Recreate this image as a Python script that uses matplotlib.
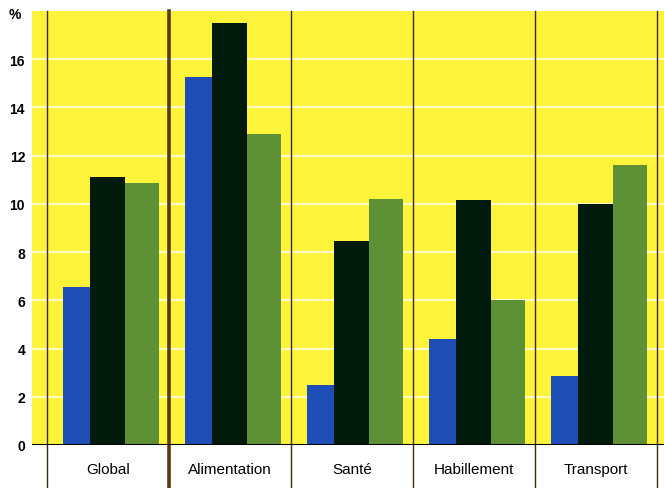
import matplotlib
matplotlib.use("Agg")
import numpy as np
import matplotlib.pyplot as plt

plt.rcParams['font.family'] = ['Liberation Sans', 'DejaVu Sans']

# ── Données (%) ───────────────────────────────────────────────
categories = ["Global", "Alimentation", "Santé", "Habillement", "Transport"]
serie_bleue = [6.55, 15.25, 2.5, 4.4, 2.85]
serie_noire = [11.1, 17.5, 8.45, 10.15, 10.0]
serie_verte = [10.85, 12.9, 10.2, 6.0, 11.6]
yticks = [0, 2, 4, 6, 8, 10, 12, 14, 16]

YELLOW = "#FDF33A"
BLUE = "#1F4DB6"
BLACK = "#021A0C"
GREEN = "#5E9036"

fig = plt.figure(figsize=(6.64, 4.89), dpi=100)
W, H = 664, 489
ax = fig.add_axes([32 / W, (H - 446) / H, (664 - 32) / W, (446 - 12) / H])
ax.set_facecolor(YELLOW)

x = np.arange(len(categories))
ax.bar(x + 0.13, serie_bleue, width=0.22, align="edge", color=BLUE, zorder=3)
ax.bar(x + 0.35, serie_noire, width=0.29, align="edge", color=BLACK, zorder=3)
ax.bar(x + 0.64, serie_verte, width=0.28, align="edge", color=GREEN, zorder=3)

# lignes horizontales claires
for yv in yticks[1:]:
    ax.axhline(yv, color="#FFF9C8", lw=1.5, zorder=1)

ax.set_xlim(-0.123, 5.057)
ax.set_ylim(0, 18)

# séparateurs verticaux (prolongés sous l'axe)
y_bas = -(H - 446) / ((446 - 61) / 16)
for i in range(len(categories) + 1):
    lw = 2.6 if i == 1 else 1.0
    col = "#5A3A10" if i == 1 else "#3A2A10"
    ax.plot([i, i], [18, y_bas], color=col, lw=lw, clip_on=False, zorder=4)

ax.axhline(0, color="black", lw=2.2, zorder=5)

for i, cat in enumerate(categories):
    ax.text(i + 0.5, -1.0, cat, ha="center", va="center", fontsize=11,
            clip_on=False)

ax.set_xticks([])
ax.set_yticks(yticks)
ax.set_yticklabels([str(v) for v in yticks], fontsize=10, fontweight="bold")
ax.tick_params(axis="y", length=0, pad=5)
for spine in ax.spines.values():
    spine.set_visible(False)

fig.text(15 / W, 1 - 15 / H, "%", ha="center", va="center",
         fontsize=10, fontweight="bold")

fig.savefig("out.png", dpi=100)
